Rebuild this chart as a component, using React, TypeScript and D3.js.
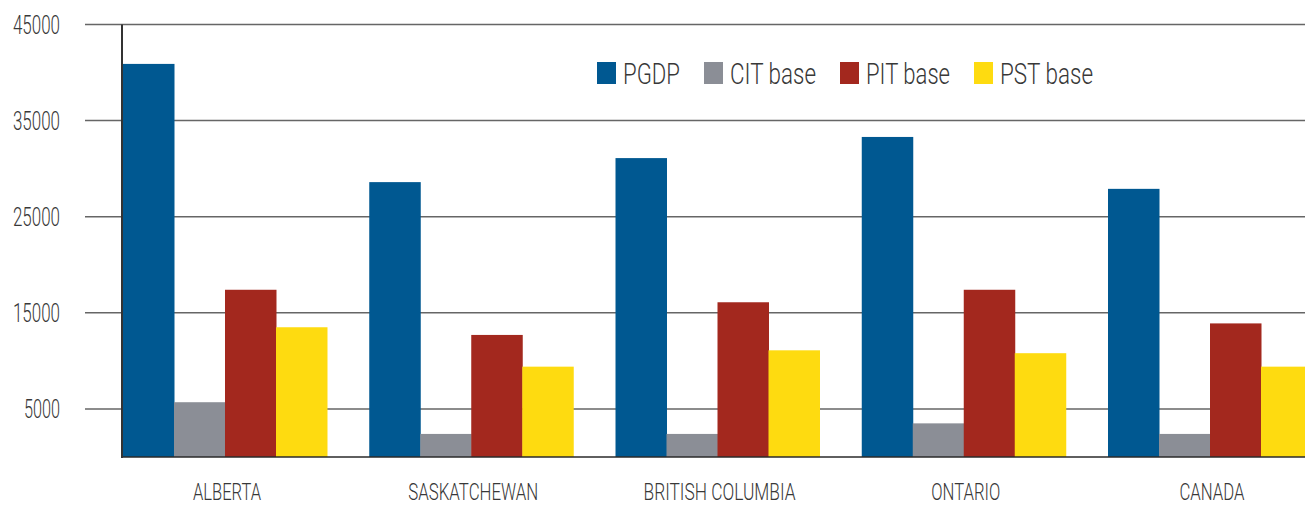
import React, { useLayoutEffect, useRef, useState } from 'react';
import * as d3 from 'd3';

const categories = ['ALBERTA', 'SASKATCHEWAN', 'BRITISH COLUMBIA', 'ONTARIO', 'CANADA'];
const seriesNames = ['PGDP', 'CIT base', 'PIT base', 'PST base'];
const pgdp = [40900, 28600, 31100, 33300, 27900];
const citBase = [5700, 2400, 2400, 3500, 2400];
const pitBase = [17400, 12700, 16100, 17400, 13900];
const pstBase = [13500, 9400, 11100, 10800, 9400];
const yTicks = [5000, 15000, 25000, 35000, 45000];
const yTickLabels = ['5000', '15000', '25000', '35000', '45000'];

const seriesValues = [pgdp, citBase, pitBase, pstBase];
const colors = ['#005891', '#8b8e96', '#a3281e', '#fedb10'];

// layout
const W = 1305;
const H = 506;
const catLabelWidths = [68, 130, 152, 69, 65];
const legendTextWidths = [57, 86, 84, 93];
const FONT = 'Roboto, "Open Sans", sans-serif';
const TEXT = '#383838';

type CTProps = {
  x: number;
  y: number;
  width: number;
  fontSize: number;
  anchor?: 'start' | 'middle' | 'end';
  children: string;
};

function CondensedText({ x, y, width, fontSize, anchor = 'start', children }: CTProps) {
  const ref = useRef<SVGTextElement>(null);
  const [sx, setSx] = useState(0.68);
  useLayoutEffect(() => {
    if (ref.current) {
      const natural = ref.current.getComputedTextLength();
      if (natural > 0) setSx(width / natural);
    }
  }, [width, children, fontSize]);
  return (
    <g transform={`translate(${x},${y}) scale(${sx},1)`}>
      <text
        ref={ref}
        x={0}
        y={0}
        fontSize={fontSize}
        fontWeight={300}
        fill={TEXT}
        textAnchor={anchor}
      >
        {children}
      </text>
    </g>
  );
}

export default function App() {
  const x0 = d3
    .scaleBand<string>()
    .domain(categories)
    .range([123, 1312])
    .paddingInner(0.1716)
    .paddingOuter(0);
  const x1 = d3.scaleBand<string>().domain(seriesNames).range([0, x0.bandwidth()]);
  const y = d3.scaleLinear().domain([0, 45000]).range([457, 24.5]);

  let lx = 597;
  const legendItems = seriesNames.map((name, i) => {
    const item = { name, x: lx, color: colors[i], w: legendTextWidths[i] };
    lx += 26 + legendTextWidths[i] + 24;
    return item;
  });

  return (
    <svg
      width={W}
      height={H}
      style={{ position: 'absolute', left: 0, top: 0, background: '#fff' }}
      fontFamily={FONT}
    >
      {/* gridlines */}
      {yTicks.map((t) => (
        <line key={t} x1={85} x2={W} y1={y(t)} y2={y(t)} stroke="#666" strokeWidth={1.5} />
      ))}
      {/* y tick labels */}
      {yTicks.map((t, i) => {
        const lab = yTickLabels[i];
        const w = lab.length === 5 ? 47 : 36;
        return (
          <CondensedText key={'yl' + t} x={60} y={y(t) + 9.5} width={w} fontSize={25} anchor="end">
            {lab}
          </CondensedText>
        );
      })}
      {/* bars */}
      {categories.map((c, ci) => (
        <g key={c} transform={`translate(${x0(c)},0)`}>
          {seriesNames.map((s, si) => {
            const v = seriesValues[si][ci];
            return (
              <rect
                key={s}
                x={x1(s)}
                y={y(v)}
                width={x1.bandwidth() + 0.5}
                height={y(0) - y(v)}
                fill={colors[si]}
              />
            );
          })}
        </g>
      ))}
      {/* axes */}
      <line x1={122} x2={W} y1={y(0)} y2={y(0)} stroke="#2a2a2a" strokeOpacity={0.75} strokeWidth={2} />
      <line x1={122} x2={122} y1={y(45000)} y2={y(0) + 1} stroke="#333" strokeWidth={2} />
      {/* category labels */}
      {categories.map((c, ci) => (
        <CondensedText
          key={'c' + c}
          x={(x0(c) as number) + x0.bandwidth() / 2 + 2}
          y={500}
          width={catLabelWidths[ci]}
          fontSize={24}
          anchor="middle"
        >
          {c}
        </CondensedText>
      ))}
      {/* legend */}
      {legendItems.map((it) => (
        <g key={it.name}>
          <rect x={it.x} y={62} width={19} height={22} fill={it.color} />
          <CondensedText x={it.x + 26} y={84} width={it.w} fontSize={29.5}>
            {it.name}
          </CondensedText>
        </g>
      ))}
    </svg>
  );
}
